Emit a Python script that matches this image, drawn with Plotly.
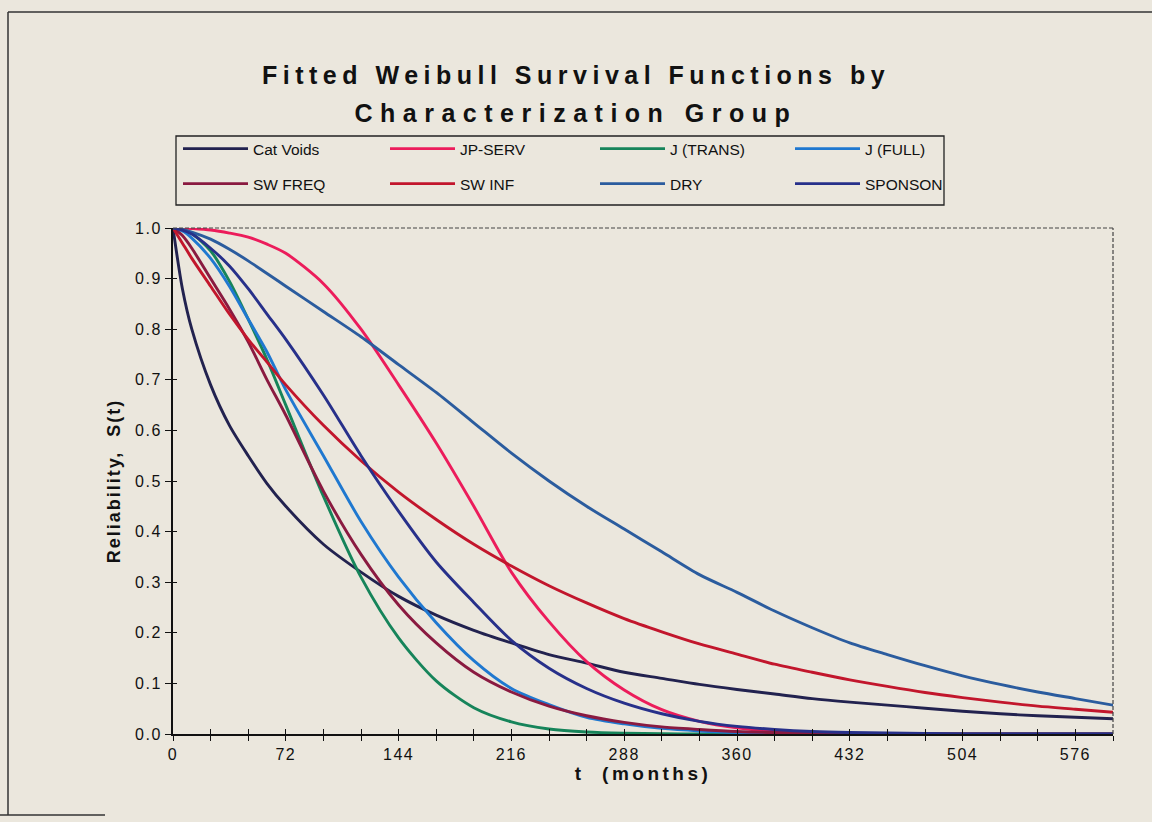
import plotly.graph_objects as go

# ---------------- data ----------------
T_MONTHS = [0, 6, 12, 24, 36, 48, 60, 72, 96, 120, 144, 168, 192, 216, 240,
            264, 288, 312, 336, 360, 384, 408, 432, 456, 480, 504, 528, 552, 576, 600]

CAT_VOIDS = [1.0, 0.88, 0.80, 0.69, 0.61, 0.55, 0.495, 0.45, 0.375, 0.32, 0.272, 0.235,
             0.205, 0.18, 0.157, 0.14, 0.122, 0.11, 0.098, 0.088, 0.079, 0.07, 0.063,
             0.057, 0.051, 0.045, 0.04, 0.036, 0.033, 0.03]
JP_SERV = [1.0, 1.0, 0.999, 0.996, 0.99, 0.982, 0.968, 0.95, 0.89, 0.80, 0.69, 0.575,
           0.45, 0.32, 0.222, 0.143, 0.087, 0.048, 0.025, 0.012, 0.005, 0.002, 0.001,
           0, 0, 0, 0, 0, 0, 0]
J_TRANS = [1.0, 0.997, 0.989, 0.955, 0.895, 0.82, 0.74, 0.65, 0.47, 0.31, 0.19, 0.105,
           0.052, 0.024, 0.01, 0.004, 0.0015, 0.0005, 0, 0, 0, 0, 0, 0, 0, 0, 0, 0, 0, 0]
J_FULL = [1.0, 0.994, 0.98, 0.94, 0.885, 0.82, 0.755, 0.68, 0.55, 0.42, 0.31, 0.22,
          0.145, 0.09, 0.058, 0.033, 0.02, 0.011, 0.006, 0.003, 0.0015, 0.0007, 0,
          0, 0, 0, 0, 0, 0, 0]
SW_FREQ = [1.0, 0.985, 0.96, 0.90, 0.84, 0.775, 0.70, 0.63, 0.48, 0.355, 0.255, 0.18,
           0.122, 0.083, 0.055, 0.036, 0.023, 0.014, 0.009, 0.005, 0.003, 0.002, 0.001,
           0, 0, 0, 0, 0, 0, 0]
SW_INF = [1.0, 0.97, 0.94, 0.885, 0.83, 0.78, 0.735, 0.69, 0.61, 0.54, 0.478, 0.424,
          0.375, 0.332, 0.293, 0.259, 0.228, 0.202, 0.178, 0.158, 0.138, 0.122, 0.107,
          0.094, 0.082, 0.072, 0.063, 0.055, 0.049, 0.043]
DRY = [1.0, 0.997, 0.992, 0.978, 0.958, 0.935, 0.91, 0.885, 0.835, 0.785, 0.73, 0.675,
       0.615, 0.555, 0.5, 0.45, 0.405, 0.36, 0.315, 0.28, 0.243, 0.21, 0.18, 0.157,
       0.135, 0.115, 0.098, 0.083, 0.07, 0.057]
SPONSON = [1.0, 0.996, 0.988, 0.96, 0.925, 0.88, 0.83, 0.78, 0.67, 0.55, 0.44, 0.34,
           0.26, 0.185, 0.13, 0.09, 0.061, 0.04, 0.025, 0.015, 0.009, 0.005, 0.003,
           0.002, 0.001, 0, 0, 0, 0, 0]

SERIES_NAMES = ["Cat Voids", "JP-SERV", "J (TRANS)", "J (FULL)",
                "SW FREQ", "SW INF", "DRY", "SPONSON"]
SERIES_VALUES = [CAT_VOIDS, JP_SERV, J_TRANS, J_FULL, SW_FREQ, SW_INF, DRY, SPONSON]

X_TICKS = [0, 72, 144, 216, 288, 360, 432, 504, 576]
X_TICK_LABELS = ["0", "72", "144", "216", "288", "360", "432", "504", "576"]
Y_TICKS = [0.0, 0.1, 0.2, 0.3, 0.4, 0.5, 0.6, 0.7, 0.8, 0.9, 1.0]
Y_TICK_LABELS = ["0.0", "0.1", "0.2", "0.3", "0.4", "0.5", "0.6", "0.7", "0.8", "0.9", "1.0"]

TITLE_LINES = ["Fitted Weibull Survival Functions by", "Characterization Group"]
X_TITLE = "t  (months)"
Y_TITLE = "Reliability,  S(t)"

# ---------------- styling ----------------
COLORS = ["#22224f", "#ec1c5b", "#16845a", "#1f78d0",
          "#8a1a40", "#c2162c", "#2b5c9e", "#27308a"]
# per-column legend entry widths (px) so the columns sit where the original's do
LEGEND_COL_WIDTHS = [127, 130, 115, 80]
BG = "#ebe7dd"
FONT = "Liberation Sans"
W, H = 1152, 822
ML, MR, MT, MB = 173, 39, 228, 88
PW, PH = W - ML - MR, H - MT - MB


def fx(px):
    return (px - ML) / PW


def fy(py):
    return (H - MB - py) / PH


fig = go.Figure()
for i, (name, vals) in enumerate(zip(SERIES_NAMES, SERIES_VALUES)):
    fig.add_trace(go.Scatter(
        x=T_MONTHS, y=vals, name=name, mode="lines",
        line=dict(color=COLORS[i], width=2.9, shape="spline", smoothing=0.8),
        legend="legend" if i < 4 else "legend2",
        legendwidth=LEGEND_COL_WIDTHS[i % 4],
        hoverinfo="skip",
    ))

# empty trace carrying the overlay axes (for ticks crossing the axis lines)
fig.add_trace(go.Scatter(x=[], y=[], xaxis="x2", yaxis="y2", showlegend=False,
                         hoverinfo="skip"))

legend_common = dict(
    orientation="h", xanchor="left", yanchor="middle",
    itemwidth=65, bgcolor="rgba(0,0,0,0)", borderwidth=0,
    font=dict(family=FONT, size=15.5, color="#111111"), traceorder="normal",
    itemclick=False, itemdoubleclick=False,
)

fig.update_layout(
    width=W, height=H,
    margin=dict(l=ML, r=MR, t=MT, b=MB, autoexpand=False),
    paper_bgcolor=BG, plot_bgcolor=BG,
    font=dict(family=FONT, color="#111111"),
    showlegend=True,
    legend=dict(x=fx(178), y=fy(149), **legend_common),
    legend2=dict(x=fx(178), y=fy(184), **legend_common),
    xaxis=dict(
        range=[0, 600], tickmode="array", tickvals=X_TICKS, ticktext=X_TICK_LABELS,
        ticks="outside", ticklen=5, tickwidth=1.3, tickcolor="#111",
        minor=dict(tickmode="linear", tick0=0, dtick=24, ticks="outside",
                   ticklen=5, tickwidth=1.3, tickcolor="#111"),
        showline=True, linecolor="#111", linewidth=2, showgrid=False, zeroline=False,
        tickfont=dict(family=FONT, size=16, color="#111"),
        title=dict(text="<b>" + X_TITLE + "</b>", standoff=2,
                   font=dict(family=FONT, size=19, color="#111")),
        fixedrange=True,
    ),
    yaxis=dict(
        range=[0, 1.0], tickmode="array", tickvals=Y_TICKS, ticktext=Y_TICK_LABELS,
        ticks="outside", ticklen=6, tickwidth=1.3, tickcolor="#111",
        showline=True, linecolor="#111", linewidth=2, showgrid=False, zeroline=False,
        tickfont=dict(family=FONT, size=16, color="#111"),
        title=dict(text="<b>" + Y_TITLE + "</b>", standoff=14,
                   font=dict(family=FONT, size=18, color="#111")),
        fixedrange=True,
    ),
    xaxis2=dict(overlaying="x", matches="x", anchor="y2", side="bottom",
                tickmode="linear", tick0=0, dtick=24, ticks="inside", ticklen=5,
                tickwidth=1.3, tickcolor="#111", showticklabels=False,
                showgrid=False, zeroline=False, showline=False, fixedrange=True),
    yaxis2=dict(overlaying="y", matches="y", anchor="x2", side="left",
                tickmode="linear", tick0=0, dtick=0.1, ticks="inside", ticklen=4,
                tickwidth=1.3, tickcolor="#111", showticklabels=False,
                showgrid=False, zeroline=False, showline=False, fixedrange=True),
)

# title lines
for txt, py in zip(TITLE_LINES, [75, 113]):
    fig.add_annotation(text="<b>" + txt + "</b>", xref="paper", yref="paper",
                       x=fx(576), y=fy(py), xanchor="center", yanchor="middle",
                       showarrow=False, font=dict(family=FONT, size=25, color="#111"))

# legend frame
fig.add_shape(type="rect", xref="paper", yref="paper",
              x0=fx(176), x1=fx(944), y0=fy(205), y1=fy(136),
              line=dict(color="#222", width=1.3), fillcolor="rgba(0,0,0,0)", layer="below")

# dashed top and right edges of the plot area
fig.add_shape(type="line", xref="paper", yref="paper", x0=0, x1=1, y0=1, y1=1,
              line=dict(color="#444", width=1.2, dash="4px,2px"))
fig.add_shape(type="line", xref="paper", yref="paper", x0=1, x1=1, y0=0, y1=1,
              line=dict(color="#444", width=1.2, dash="4px,2px"))

# outer chart frame (scan edge)
fig.add_shape(type="line", xref="paper", yref="paper", x0=fx(8), x1=fx(8),
              y0=fy(815), y1=fy(12), line=dict(color="#333", width=1.5))
fig.add_shape(type="line", xref="paper", yref="paper", x0=fx(8), x1=fx(1152),
              y0=fy(12), y1=fy(12), line=dict(color="#333", width=1.5))
fig.add_shape(type="line", xref="paper", yref="paper", x0=fx(0), x1=fx(105),
              y0=fy(815), y1=fy(815), line=dict(color="#333", width=1.5))

# widen letter spacing of titles and tick labels, as in the original typeset chart
POST = """
var gd = document.getElementById('{plot_id}');
gd.querySelectorAll('.annotation-text').forEach(function(t){
  var s = t.textContent;
  if (s.indexOf('Fitted') === 0) { t.style.letterSpacing = '5.5px'; }
  else if (s.indexOf('Characterization') === 0) { t.style.letterSpacing = '7.5px'; }
});
var xt = gd.querySelector('.xtitle'); if (xt) { xt.style.letterSpacing = '3.5px'; }
var yt = gd.querySelector('.ytitle'); if (yt) { yt.style.letterSpacing = '2px'; }
gd.querySelectorAll('.xtick text, .ytick text').forEach(function(t){
  t.style.letterSpacing = '1.5px';
});
"""

fig.write_html("out.html", config={"displayModeBar": False}, post_script=POST)
